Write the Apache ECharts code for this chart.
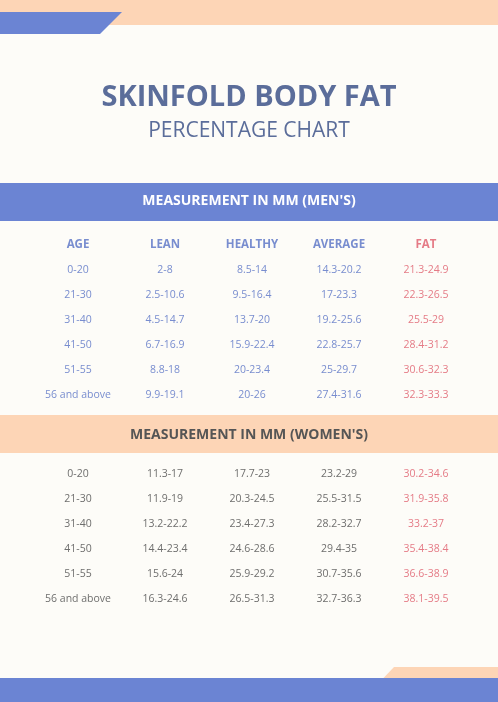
<!DOCTYPE html>
<html><head><meta charset="utf-8">
<script src="https://cdn.jsdelivr.net/npm/echarts@6/dist/echarts.min.js"></script>
<style>html,body{margin:0;padding:0;background:#fdfcf8}#c{width:498px;height:702px}</style>
</head><body><div id="c"></div>
<script>
const columns = ['AGE','LEAN','HEALTHY','AVERAGE','FAT'];
const ages = ['0-20','21-30','31-40','41-50','51-55','56 and above'];
const menLean = ['2-8','2.5-10.6','4.5-14.7','6.7-16.9','8.8-18','9.9-19.1'];
const menHealthy = ['8.5-14','9.5-16.4','13.7-20','15.9-22.4','20-23.4','20-26'];
const menAverage = ['14.3-20.2','17-23.3','19.2-25.6','22.8-25.7','25-29.7','27.4-31.6'];
const menFat = ['21.3-24.9','22.3-26.5','25.5-29','28.4-31.2','30.6-32.3','32.3-33.3'];
const womenLean = ['11.3-17','11.9-19','13.2-22.2','14.4-23.4','15.6-24','16.3-24.6'];
const womenHealthy = ['17.7-23','20.3-24.5','23.4-27.3','24.6-28.6','25.9-29.2','26.5-31.3'];
const womenAverage = ['23.2-29','25.5-31.5','28.2-32.7','29.4-35','30.7-35.6','32.7-36.3'];
const womenFat = ['30.2-34.6','31.9-35.8','33.2-37','35.4-38.4','36.6-38.9','38.1-39.5'];

const font = '"Open Sans", "Noto Sans", sans-serif';
const blue = '#6b84d3', peach = '#fdd5b6', red = '#de5a69', navy='#5b6d9a';
const menRows = ['H'].concat(ages.map((a,i)=>'m'+i));
const womenRows = ages.map((a,i)=>'w'+i);

function cells(cols, rowKeys, colors, header){
  const d=[];
  if(header) columns.forEach((c,j)=>d.push({value:[c,'H'],txt:c,label:{color:j===4?red:'#5670c4',fontWeight:'bold',fontSize:11.5}}));
  cols.forEach((arr,j)=>arr.forEach((t,i)=>d.push({value:[columns[j],rowKeys[i]],txt:t,label:{color:colors[j]}})));
  return d;
}
const menColor='#5670c4', womenColor='#4a4a4a';
const menData = cells([ages,menLean,menHealthy,menAverage,menFat], ages.map((a,i)=>'m'+i),[menColor,menColor,menColor,menColor,red],true);
const womenData = cells([ages,womenLean,womenHealthy,womenAverage,womenFat], womenRows,[womenColor,womenColor,womenColor,womenColor,red],false);

const chart = echarts.init(document.getElementById('c'));
chart.setOption({
  backgroundColor:'#fdfcf8',
  animation:false,
  title:[
    {text:'SKINFOLD BODY FAT',left:'center',top:78,textStyle:{fontFamily:font,fontSize:29,fontWeight:'bold',color:navy}},
    {text:'PERCENTAGE CHART',left:'center',top:116,textStyle:{fontFamily:font,fontSize:21,fontWeight:'normal',color:navy}}
  ],
  graphic:[
    {type:'rect',shape:{x:0,y:0,width:498,height:25},style:{fill:peach},z:1},
    {type:'polygon',shape:{points:[[0,12],[122,12],[100,34],[0,34]]},style:{fill:blue},z:2},
    {type:'rect',shape:{x:0,y:183,width:498,height:38},style:{fill:blue}},
    {type:'text',x:249,y:201,style:{text:"MEASUREMENT IN MM (MEN'S)",fill:'#fff',font:'bold 14px '+font,align:'center',verticalAlign:'middle'}},
    {type:'rect',shape:{x:0,y:415,width:498,height:38},style:{fill:peach}},
    {type:'text',x:249,y:435,style:{text:"MEASUREMENT IN MM (WOMEN'S)",fill:'#555',font:'bold 14px '+font,align:'center',verticalAlign:'middle'}},
    {type:'rect',shape:{x:0,y:678,width:498,height:24},style:{fill:blue},z:2},
    {type:'polygon',shape:{points:[[394,667],[498,667],[498,688],[374,688]]},style:{fill:peach},z:1}
  ],
  grid:[
    {left:34.5,right:28.5,top:232.5,height:175},
    {left:34.5,right:28.5,top:461.5,height:150}
  ],
  xAxis:[
    {type:'category',data:columns,gridIndex:0,show:false},
    {type:'category',data:columns,gridIndex:1,show:false}
  ],
  yAxis:[
    {type:'category',data:menRows,inverse:true,gridIndex:0,show:false},
    {type:'category',data:womenRows,inverse:true,gridIndex:1,show:false}
  ],
  series:[
    {type:'scatter',xAxisIndex:0,yAxisIndex:0,symbolSize:0,data:menData,
     label:{show:true,position:'inside',fontFamily:font,fontSize:10.5,formatter:p=>p.data.txt}},
    {type:'scatter',xAxisIndex:1,yAxisIndex:1,symbolSize:0,data:womenData,
     label:{show:true,position:'inside',fontFamily:font,fontSize:10.5,formatter:p=>p.data.txt}}
  ]
});
</script></body></html>
